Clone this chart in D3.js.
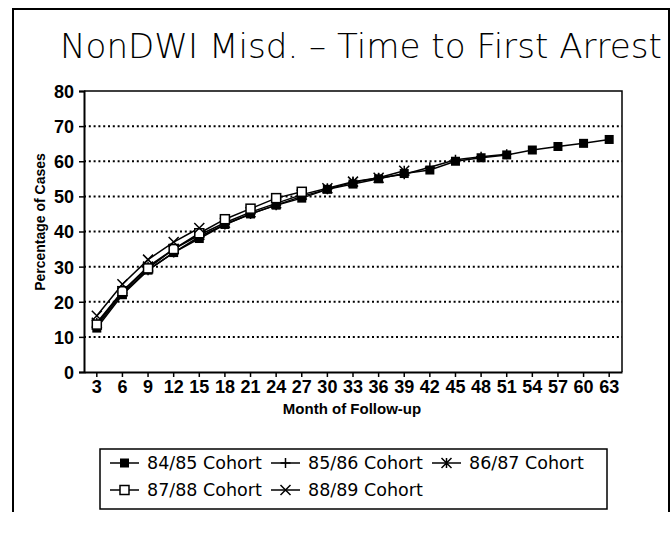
<!DOCTYPE html>
<html>
<head>
<meta charset="utf-8">
<script src="https://cdn.jsdelivr.net/npm/d3@7"></script>
<style>
  body { margin: 0; background: #fff; }
  svg { display: block; }
</style>
</head>
<body>
<svg id="chart" width="671" height="535"></svg>
<script>
// months of follow-up (x categories)
var months = [3, 6, 9, 12, 15, 18, 21, 24, 27, 30, 33, 36, 39, 42, 45, 48, 51, 54, 57, 60, 63];
var yTicks = [0, 10, 20, 30, 40, 50, 60, 70, 80];

// percentage of cases arrested, per cohort (shorter follow-up for later cohorts)
var cohort8485 = [12.5, 22, 29, 34, 38, 42, 45, 47.5, 49.5, 52, 53.5, 55, 56.5, 57.5, 60, 61, 61.8, 63.2, 64.2, 65.1, 66.2];
var cohort8586 = [13, 22.5, 29, 34, 38.5, 42, 45, 47.5, 50, 52, 54, 55.2, 56.3, 58.3, 60.4, 61.3, 62];
var cohort8687 = [14, 23, 30, 35, 39, 42.5, 45.5, 48, 50.5, 52.3, 54.2, 55.3, 57.3];
var cohort8788 = [13.5, 23, 29.5, 35, 39.5, 43.5, 46.5, 49.5, 51.3];
var cohort8889 = [16, 25, 32, 37, 41];

var seriesNames = ["84/85 Cohort", "85/86 Cohort", "86/87 Cohort", "87/88 Cohort", "88/89 Cohort"];
var seriesValues = [cohort8485, cohort8586, cohort8687, cohort8788, cohort8889];
var seriesMarks = ["filled", "plus", "star", "open", "cross"];

var svg = d3.select("#chart");

var x = d3.scaleBand().domain(months).range([84, 622]);
var y = d3.scaleLinear().domain([0, 80]).range([372, 91]);
var cx = function(m) { return x(m) + x.bandwidth() / 2; };

// outer frame
svg.append("path")
  .attr("d", "M13,512V9H669V512")
  .attr("fill", "none")
  .attr("stroke", "#000")
  .attr("stroke-width", 2);

// title
svg.append("text")
  .attr("x", 60)
  .attr("y", 58)
  .attr("textLength", 602)
  .attr("lengthAdjust", "spacingAndGlyphs")
  .style("font-family", "DejaVu Sans, sans-serif")
  .style("font-weight", 200)
  .style("font-size", "33px")
  .text("NonDWI Misd. \u2013 Time to First Arrest");

// dotted grid
svg.append("g")
  .selectAll("line")
  .data(yTicks.filter(d => d > 0 && d < 80))
  .enter()
  .append("line")
  .attr("x1", 84)
  .attr("x2", 622)
  .attr("y1", d => y(d))
  .attr("y2", d => y(d))
  .attr("stroke", "#000")
  .attr("stroke-width", 2)
  .attr("stroke-dasharray", "2,2.8");

// plot frame top + right
svg.append("path")
  .attr("d", "M84," + y(80) + "H622V" + y(0))
  .attr("fill", "none")
  .attr("stroke", "#000")
  .attr("stroke-width", 1.5);

// y axis
var yAxis = svg.append("g")
  .attr("transform", "translate(84,0)")
  .call(d3.axisLeft(y).tickValues(yTicks).tickSize(5).tickPadding(5));
yAxis.select(".domain").attr("stroke-width", 2);
yAxis.selectAll(".tick line").attr("stroke-width", 1.5);
yAxis.selectAll("text")
  .attr("dy", "0.36em")
  .style("font-family", "Liberation Sans, Arial, sans-serif")
  .style("font-weight", "bold")
  .style("font-size", "18px")
  .attr("fill", "#000");

// x axis
var xAxis = svg.append("g")
  .attr("transform", "translate(0,372)")
  .call(d3.axisBottom(x).tickSize(5).tickPadding(3).tickSizeOuter(0));
xAxis.select(".domain").attr("stroke-width", 2);
xAxis.selectAll(".tick line").attr("stroke-width", 1.5);
xAxis.selectAll("text")
  .style("font-family", "Liberation Sans, Arial, sans-serif")
  .style("font-weight", "bold")
  .style("font-size", "18px")
  .attr("fill", "#000");

// axis titles
svg.append("text")
  .attr("transform", "translate(45,222)rotate(-90)")
  .attr("text-anchor", "middle")
  .style("font-family", "Liberation Sans, Arial, sans-serif")
  .style("font-weight", "bold")
  .style("font-size", "14px")
  .text("Percentage of Cases");

svg.append("text")
  .attr("x", 352)
  .attr("y", 414)
  .attr("text-anchor", "middle")
  .style("font-family", "Liberation Sans, Arial, sans-serif")
  .style("font-weight", "bold")
  .style("font-size", "15px")
  .text("Month of Follow-up");

// marker drawing
function drawMark(g, type, px, py) {
  if (type == "filled") {
    g.append("rect").attr("x", px - 4.5).attr("y", py - 4.5).attr("width", 9).attr("height", 9)
      .attr("fill", "#000");
  } else if (type == "open") {
    g.append("rect").attr("x", px - 4.5).attr("y", py - 4.5).attr("width", 9).attr("height", 9)
      .attr("fill", "#fff").attr("stroke", "#000").attr("stroke-width", 1.5);
  } else if (type == "plus") {
    g.append("path").attr("d", "M" + px + "," + (py - 5) + "V" + (py + 5) + "M" + (px - 5) + "," + py + "H" + (px + 5))
      .attr("stroke", "#000").attr("stroke-width", 1.5);
  } else if (type == "cross") {
    g.append("path").attr("d", "M" + (px - 5) + "," + (py - 5) + "L" + (px + 5) + "," + (py + 5) +
      "M" + (px - 5) + "," + (py + 5) + "L" + (px + 5) + "," + (py - 5))
      .attr("stroke", "#000").attr("stroke-width", 1.5);
  } else if (type == "star") {
    g.append("path").attr("d", "M" + (px - 5) + "," + (py - 5) + "L" + (px + 5) + "," + (py + 5) +
      "M" + (px - 5) + "," + (py + 5) + "L" + (px + 5) + "," + (py - 5) +
      "M" + px + "," + (py - 5) + "V" + (py + 5))
      .attr("stroke", "#000").attr("stroke-width", 1.5);
  }
}

var line = d3.line()
  .x((d, i) => cx(months[i]))
  .y(d => y(d));

var linesG = svg.append("g");
seriesValues.forEach(vals => {
  linesG.append("path")
    .attr("d", line(vals))
    .attr("fill", "none")
    .attr("stroke", "#000")
    .attr("stroke-width", 1.5);
});

var marksG = svg.append("g");
seriesValues.forEach((vals, s) => {
  vals.forEach((v, i) => {
    drawMark(marksG, seriesMarks[s], cx(months[i]), y(v));
  });
});

// legend
var legend = svg.append("g");
legend.append("rect")
  .attr("x", 100).attr("y", 449).attr("width", 507).attr("height", 60)
  .attr("fill", "none").attr("stroke", "#000").attr("stroke-width", 1.5);

var legendPos = [[110, 463], [271, 463], [432, 463], [110, 490], [271, 490]];
seriesNames.forEach((name, i) => {
  var lx = legendPos[i][0], ly = legendPos[i][1];
  legend.append("line")
    .attr("x1", lx).attr("x2", lx + 29).attr("y1", ly).attr("y2", ly)
    .attr("stroke", "#000").attr("stroke-width", 1.5);
  drawMark(legend, seriesMarks[i], lx + 14.5, ly);
  legend.append("text")
    .attr("x", lx + 37)
    .attr("y", ly)
    .attr("dy", "0.36em")
    .style("font-family", "DejaVu Sans, sans-serif")
    .style("font-size", "17.5px")
    .text(name);
});
</script>
</body>
</html>
